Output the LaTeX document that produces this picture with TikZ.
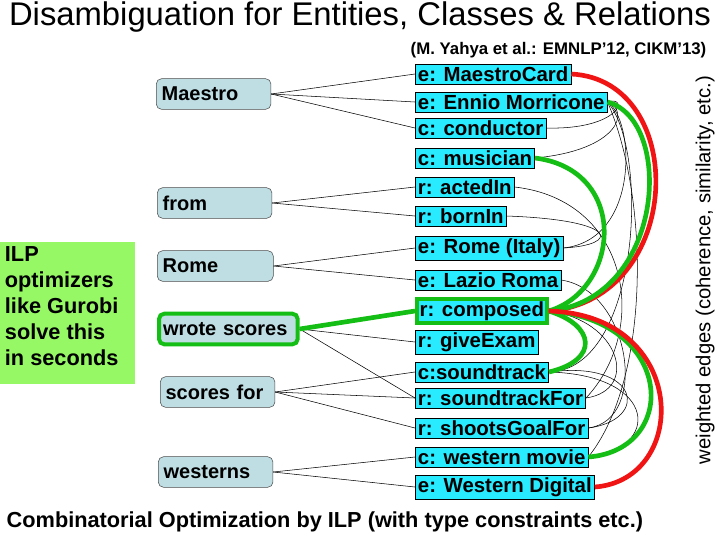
\documentclass[tikz,border=0pt]{standalone}
\usepackage{fontspec}
\setmainfont{Liberation Sans}
\definecolor{cy}{RGB}{40,235,255}
\definecolor{wf}{RGB}{190,222,228}
\definecolor{ilpg}{RGB}{150,248,100}
\definecolor{gg}{RGB}{20,190,20}
\definecolor{rr}{RGB}{240,20,20}
\begin{document}
\begin{tikzpicture}[x=0.75pt,y=-0.75pt,
  cand/.style={draw=black,fill=cy,anchor=west,font=\fontsize{15.3}{17}\selectfont\bfseries,inner sep=2pt,minimum height=15pt},
  word/.style={draw=black!70,fill=wf,rounded corners=4pt,anchor=west,font=\fontsize{15}{17}\selectfont\bfseries,inner sep=4pt,minimum height=23pt,align=left},
  thin/.style={black,line width=0.4pt},
  gr/.style={gg,line width=3.5pt},
  rd/.style={rr,line width=3.5pt}]
\useasboundingbox (0,0) rectangle (720,540);
\node[font=\fontsize{24.6}{28}\selectfont,anchor=center] (title) at (360,17) {Disambiguation for Entities, Classes \& Relations};
\node[font=\fontsize{12.6}{15}\selectfont\bfseries,anchor=west] (ref) at (406,50) {(M. Yahya et al.: EMNLP'12, CIKM'13)};
\node[font=\fontsize{16.3}{18}\selectfont\bfseries,anchor=west] (bot) at (2,522) {Combinatorial Optimization by ILP (with type constraints etc.)};
\node[font=\fontsize{15.2}{18}\selectfont,rotate=90] (wt) at (705,270) {weighted edges (coherence, similarity, etc.)};
\node[fill=ilpg,anchor=north west,minimum width=101pt,minimum height=106pt,inner sep=0pt] (ilpbg) at (0,242) {};
\node[anchor=north west,font=\fontsize{16.3}{19.5}\selectfont\bfseries,align=left,inner sep=2pt] (ilp) at (2,244) {ILP\\optimizers\\like Gurobi\\solve this\\in seconds};
% left words
\node[word,text width=78pt] (w1) at (156,94) {Maestro};
\node[word,text width=78pt] (w2) at (157,203) {from};
\node[word,text width=79pt] (w3) at (157,266) {Rome};
\node[word,draw=gg,line width=3pt,inner sep=3pt,text width=98pt] (w4) at (157,329) {wrote scores};
\node[word,text width=78pt] (w5) at (160,392) {scores for};
\node[word,text width=78pt] (w6) at (158,472) {westerns};
% candidates
\node[cand] (c1) at (415,74) {e: MaestroCard};
\node[cand] (c2) at (415,102) {e: Ennio Morricone};
\node[cand] (c3) at (415,128) {c: conductor\hspace{1.5em}};
\node[cand] (c4) at (415,158) {c: musician};
\node[cand] (c5) at (415,187) {r: actedIn\hspace{1em}};
\node[cand] (c6) at (415,216) {r: bornIn};
\node[cand] (c7) at (415,248) {e: Rome (Italy)};
\node[cand] (c8) at (415,280) {e: Lazio Roma};
\node[cand,draw=gg,line width=3pt] (c9) at (415,311) {r: composed};
\node[cand] (c10) at (415,342) {r: giveExam\hspace{1em}};
\node[cand] (c11) at (415,372) {c:soundtrack};
\node[cand] (c12) at (415,398) {r: soundtrackFor};
\node[cand] (c13) at (415,428) {r: shootsGoalFor};
\node[cand] (c14) at (415,457) {c: western movie};
\node[cand] (c15) at (415,487) {e: Western Digital};
% word-candidate links
\foreach \a/\b in {w1/c1,w1/c2,w1/c3,w2/c5,w2/c6,w3/c7,w3/c8,w4/c10,w4/c12,w5/c11,w5/c12,w5/c13,w6/c14,w6/c15}
  \draw[thin] (\a.east) -- (\b.west);
\draw[gr] (w4.east) -- (c9.west);
% thin coherence curves
\draw[thin] (c3.east) .. controls (620,130) and (630,95) .. (c2.east);
\draw[thin] (c4.east) .. controls (620,150) and (630,110) .. (c2.east);
\draw[thin] (c2.east) .. controls (650,200) and (650,380) .. (c14.east);
\draw[thin] (c5.east) .. controls (630,200) and (650,330) .. (c12.east);
\draw[thin] (c6.east) .. controls (620,220) and (620,245) .. (c7.east);
\draw[thin] (c7.east) .. controls (640,240) and (635,120) .. (c2.east);
\draw[thin] (c8.east) .. controls (630,290) and (650,420) .. (c13.east);
\draw[thin] (c11.east) .. controls (640,370) and (650,150) .. (c2.east);
\draw[thin] (c12.east) .. controls (640,390) and (620,320) .. (c9.east);
\draw[thin] (c13.east) .. controls (650,420) and (640,360) .. (c11.east);
\draw[thin] (c11.east) .. controls (660,375) and (660,450) .. (c14.east);
% thick curves
\draw[rd] (c1.east) .. controls (690,80) and (685,300) .. (c9.east);
\draw[gr] (c2.east) .. controls (675,120) and (665,300) .. (c9.east);
\draw[gr] (c4.east) .. controls (630,170) and (620,290) .. (c9.east);
\draw[gr] (c9.east) .. controls (595,325) and (600,360) .. (c11.east);
\draw[gr] (c9.east) .. controls (675,320) and (680,450) .. (c14.east);
\draw[rd] (c9.east) .. controls (690,315) and (690,480) .. (c15.east);
\end{tikzpicture}
\end{document}
